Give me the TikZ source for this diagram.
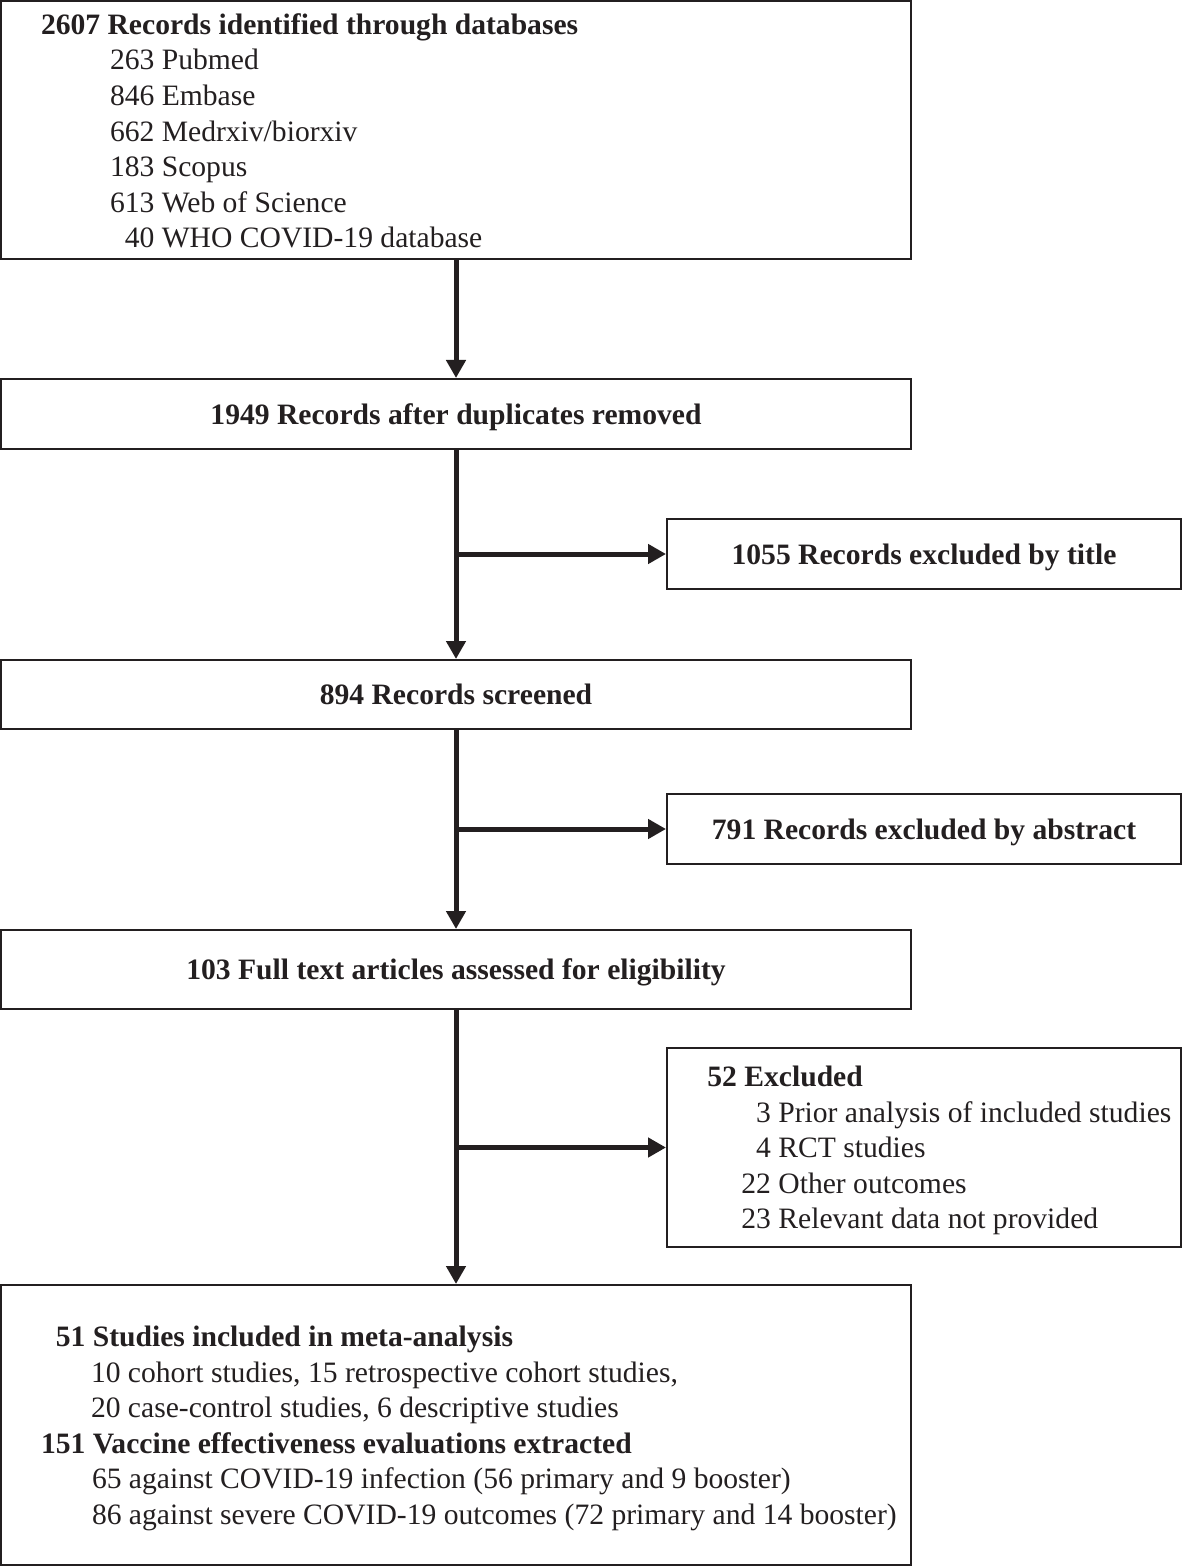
\documentclass[tikz,border=0pt]{standalone}
\usepackage{fontspec}
\setmainfont{Liberation Serif}
\usepackage{tikz}
\usetikzlibrary{arrows.meta}
\definecolor{ink}{HTML}{231F20}

\begin{document}
\begin{tikzpicture}[x=0.5pt, y=-0.5pt,
  font=\fontsize{14.8}{17.8}\selectfont,
  box/.style={draw=ink, line width=1pt, minimum width=455pt, inner sep=0pt, text depth=0pt, text=ink, font=\fontsize{14.8}{17.8}\selectfont\bfseries},
  sidebox/.style={box, minimum width=257pt},
  lines/.style={anchor=west, align=left, inner sep=0pt, text=ink},
  flow/.style={draw=ink, line width=2.5pt, -{Triangle[width=9.5pt, length=9pt]}}]
\useasboundingbox (0,0) rectangle (1182,1566);

% main column
\node[box, minimum height=129pt] (recs) at (456,130) {};
\node[box, minimum height=35pt] (dedup) at (456,414) {1949 Records after duplicates removed};
\node[box, minimum height=34.5pt] (screen) at (456,694.5) {894 Records screened};
\node[box, minimum height=39.5pt] (full) at (456,969.5) {103 Full text articles assessed for eligibility};
\node[box, minimum height=140pt] (incl) at (456,1425) {};

% exclusions
\node[sidebox, minimum height=35pt] (title) at (924,554) {1055 Records excluded by title};
\node[sidebox, minimum height=35pt] (abstr) at (924,829) {791 Records excluded by abstract};
\node[sidebox, minimum height=99.5pt] (excl) at (924,1147.5) {};

% box texts
\node[lines, xshift=20.3pt, yshift=-0.5pt] (recstext) at (recs.west) {%
\textbf{2607 Records identified through databases}\\
\hspace*{34.5pt}263 Pubmed\\
\hspace*{34.5pt}846 Embase\\
\hspace*{34.5pt}662 Medrxiv/biorxiv\\
\hspace*{34.5pt}183 Scopus\\
\hspace*{34.5pt}613 Web of Science\\
\hspace*{34.5pt}\phantom{0}40 WHO COVID-19 database};
\node[lines, xshift=20.5pt, yshift=-1.5pt] (excltext) at (excl.west) {%
\textbf{52 Excluded}\\
\hspace*{17pt}\phantom{0}3 Prior analysis of included studies\\
\hspace*{17pt}\phantom{0}4 RCT studies\\
\hspace*{17pt}22 Other outcomes\\
\hspace*{17pt}23 Relevant data not provided};
\node[lines, xshift=20.3pt, yshift=-1.75pt] (incltext) at (incl.west) {%
\textbf{\phantom{0}51 Studies included in meta-analysis}\\
\hspace*{25pt}10 cohort studies, 15 retrospective cohort studies,\\
\hspace*{25pt}20 case-control studies, 6 descriptive studies\\
\textbf{151 Vaccine effectiveness evaluations extracted}\\
\hspace*{25.5pt}65 against COVID-19 infection (56 primary and 9 booster)\\
\hspace*{25.5pt}86 against severe COVID-19 outcomes (72 primary and 14 booster)};

% arrows
\draw[flow] (recs) -- (dedup);
\draw[flow] (dedup) -- (screen);
\draw[flow] (screen) -- (full);
\draw[flow] (full) -- (incl);
\draw[flow] (dedup.south |- title.west) -- (title.west);
\draw[flow] (screen.south |- abstr.west) -- (abstr.west);
\draw[flow] (full.south |- excl.west) -- (excl.west);
\end{tikzpicture}
\end{document}
